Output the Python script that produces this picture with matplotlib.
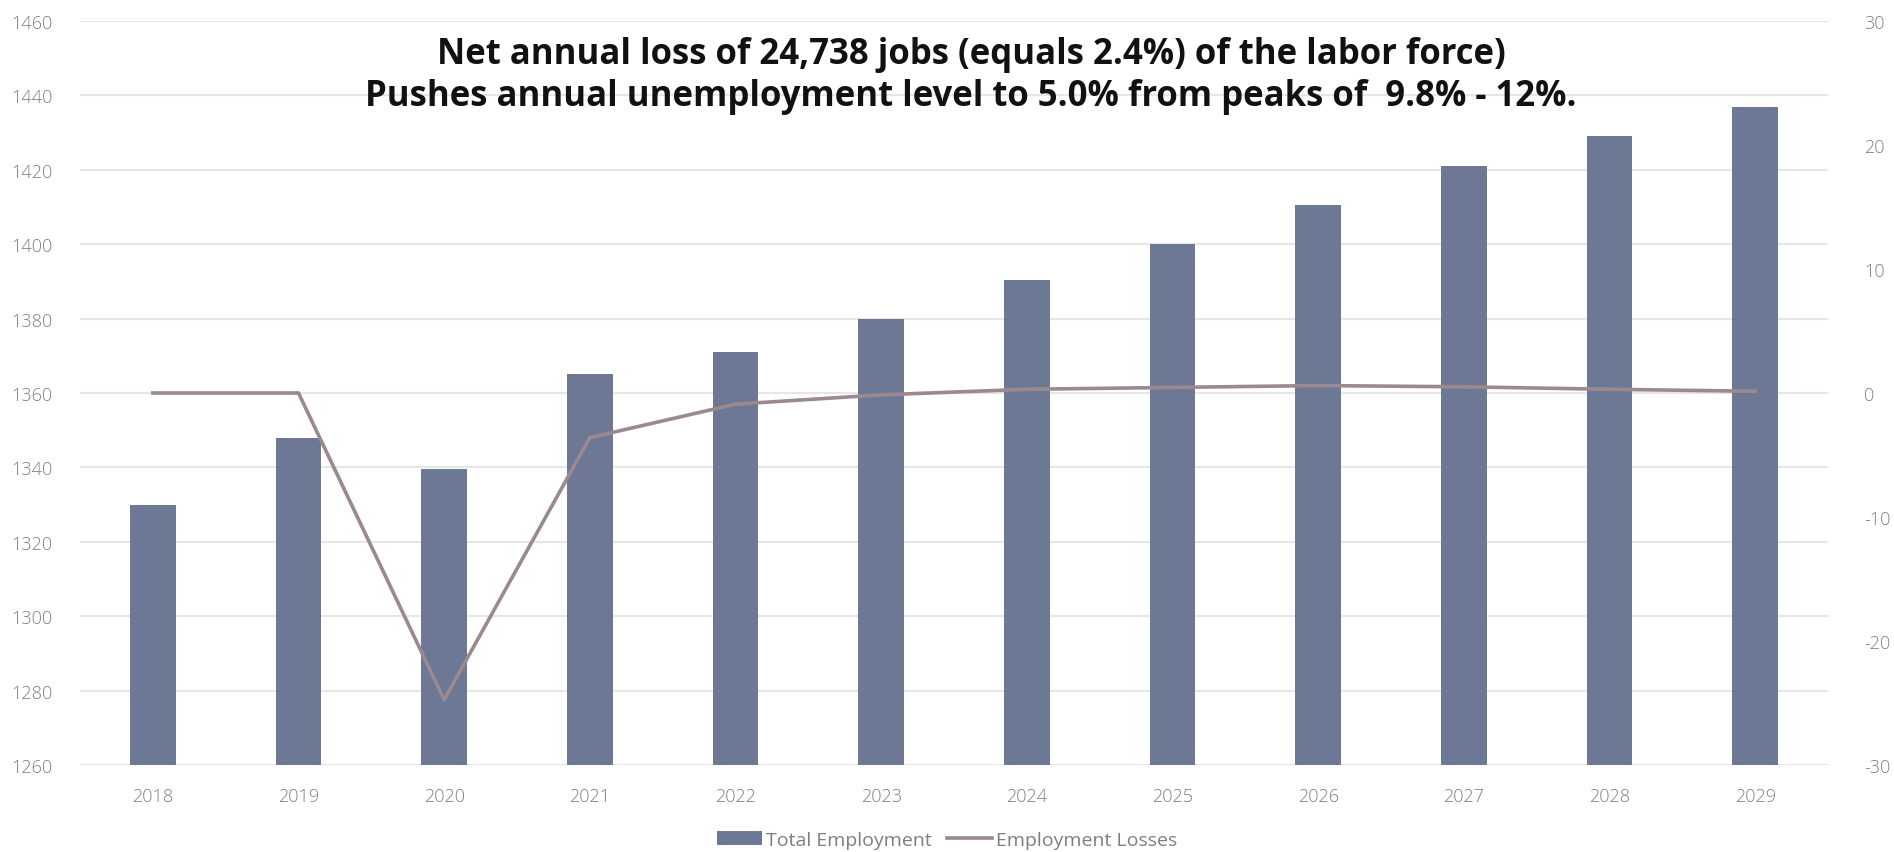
import matplotlib
matplotlib.use("Agg")
import matplotlib.pyplot as plt
import numpy as np

# Employment series (thousands) and yearly change
years = ['2018', '2019', '2020', '2021', '2022', '2023',
         '2024', '2025', '2026', '2027', '2028', '2029']
total_employment = [1330, 1348, 1339.5, 1365, 1371, 1380,
                    1390.5, 1400, 1410.5, 1421, 1429, 1437]
employment_losses = [0, 0, -24.738, -3.6, -0.9, -0.15,
                     0.3, 0.45, 0.6, 0.5, 0.3, 0.14]

left_ticks = list(range(1260, 1461, 20))
right_ticks = list(range(-30, 31, 10))

title = ("Net annual loss of 24,738 jobs (equals 2.4%) of the labor force)\n"
         "Pushes annual unemployment level to 5.0% from peaks of  9.8% - 12%.")

bar_color = '#6d7894'
line_color = '#9a8a8f'
tick_color = '#7f7f7f'
grid_color = '#e6e6e6'

plt.rcParams['font.family'] = ['Open Sans', 'DejaVu Sans']
plt.rcParams['axes.unicode_minus'] = False

fig = plt.figure(figsize=(18.94, 8.53), dpi=100)
ax = fig.add_axes([80 / 1894, 1 - 766 / 853, 1748 / 1894, 744 / 853])
x = np.arange(len(years))

bars = ax.bar(x, total_employment, width=0.315, color=bar_color,
              label='Total Employment', zorder=2)
ax.set_ylim(left_ticks[0], left_ticks[-1])
ax.set_yticks(left_ticks)
ax.set_xlim(-0.5, len(years) - 0.5)
ax.set_xticks(x)
ax.set_xticklabels(years)
ax.grid(axis='y', color=grid_color, linewidth=1.5, zorder=0)
ax.set_axisbelow(True)
for s in ax.spines.values():
    s.set_visible(False)
ax.tick_params(axis='both', length=0, colors=tick_color, labelsize=13)
ax.tick_params(axis='y', pad=20)
ax.tick_params(axis='x', pad=16)

ax2 = ax.twinx()
line, = ax2.plot(x, employment_losses, color=line_color, linewidth=2.6,
                 label='Employment Losses', zorder=3)
ax2.set_ylim(right_ticks[0], right_ticks[-1])
ax2.set_yticks(right_ticks)
for s in ax2.spines.values():
    s.set_visible(False)
ax2.tick_params(axis='y', length=0, colors=tick_color, labelsize=13, pad=26)

for t in ax.get_xticklabels() + ax.get_yticklabels() + ax2.get_yticklabels():
    t.set_fontweight('light')

fig.text(971 / 1894, 1 - 76 / 853, title, ha='center', va='center',
         fontsize=25, fontweight='bold', color='#111111', linespacing=1.25)

leg = fig.legend([bars, line], ['Total Employment', 'Employment Losses'],
                 loc='center', bbox_to_anchor=(0.5, 1 - 841 / 853), ncol=2,
                 frameon=False, fontsize=14, handlelength=2.3,
                 handletextpad=0.2, columnspacing=0.8, labelcolor=tick_color)

fig.savefig('out.png', dpi=100, facecolor='white')
